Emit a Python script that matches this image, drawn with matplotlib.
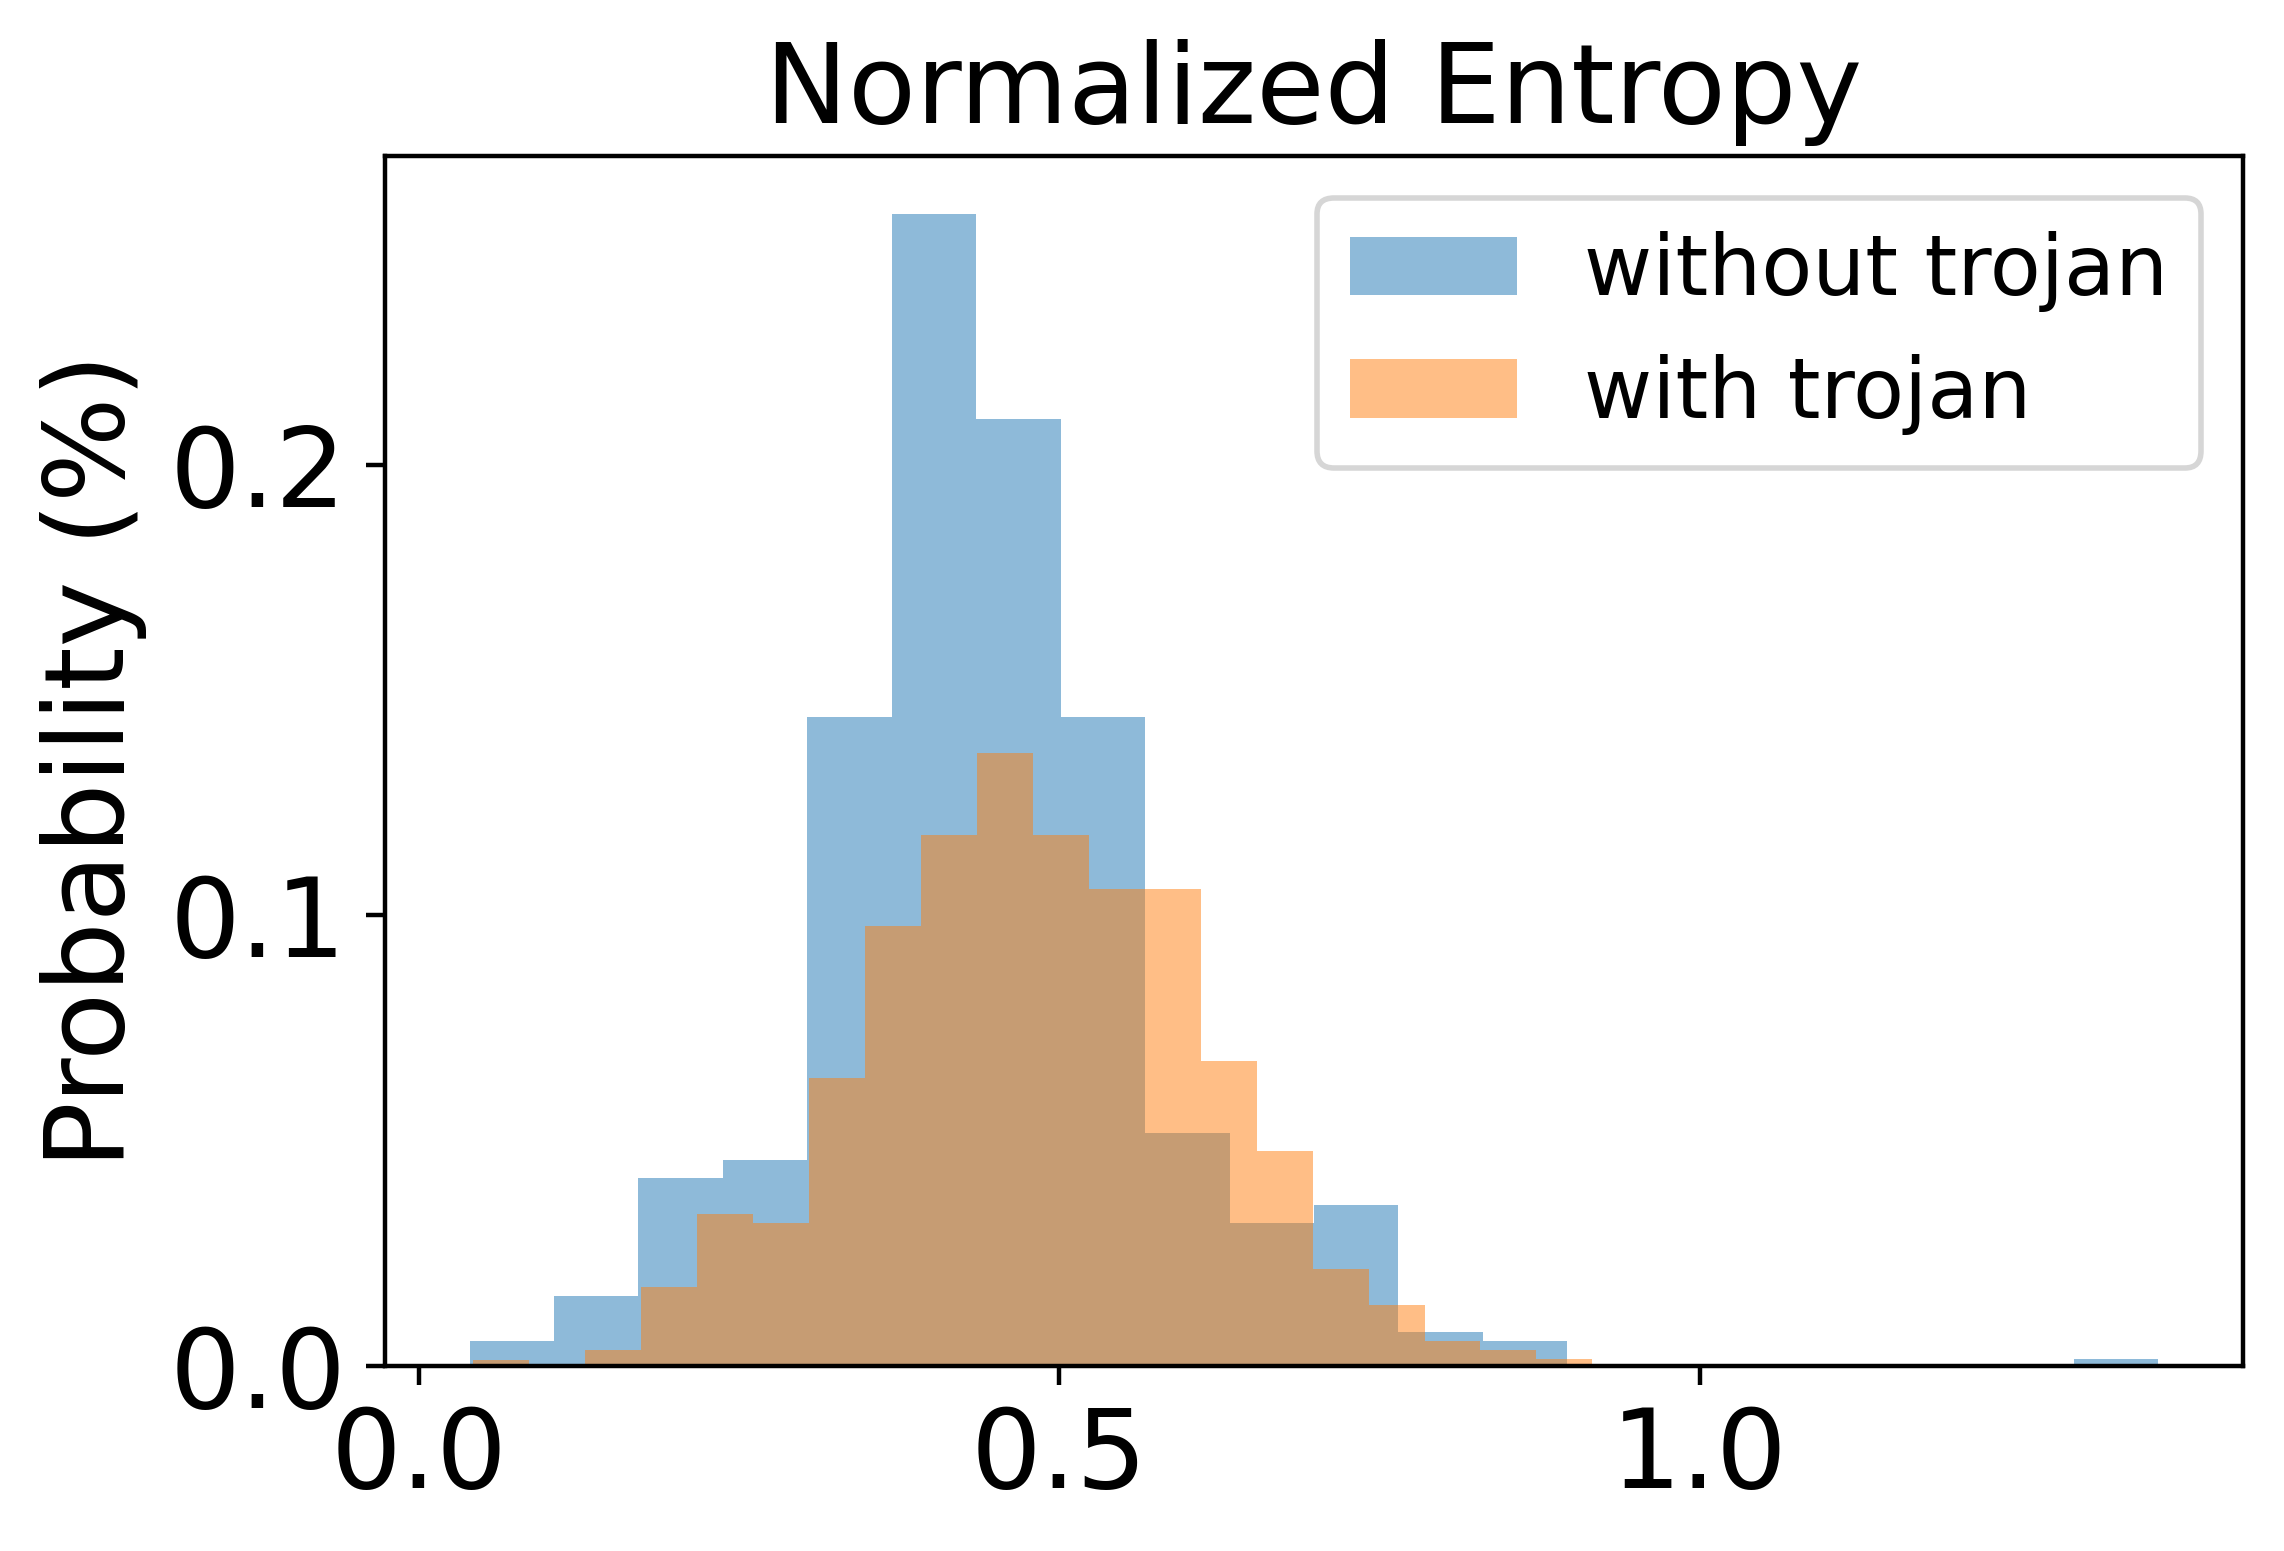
import numpy as np
import matplotlib
matplotlib.use("Agg")
import matplotlib.pyplot as plt

# bar heights (fraction of samples per bin)
without_heights = [0.0054, 0.0155, 0.0416, 0.0457, 0.1440, 0.2558, 0.2101, 0.1440, 0.0517, 0.0316,
                   0.0356, 0.0074, 0.0054, 0.0, 0.0, 0.0, 0.0, 0.0, 0.0, 0.0014]
with_heights = [0.0013, 0.0, 0.0034, 0.0175, 0.0336, 0.0316, 0.0638, 0.0977, 0.1179, 0.1360,
                0.1179, 0.1058, 0.1058, 0.0676, 0.0477, 0.0215, 0.0135, 0.0054, 0.0034, 0.0014]

# data range of each series (hist uses 20 equal bins between min and max)
without_range = (0.0394, 1.3584)
with_range = (0.0418, 0.9164)
n_bins = 20

labels = ["without trojan", "with trojan"]
xticks = [0.0, 0.5, 1.0]
yticks = [0.0, 0.1, 0.2]

plt.rcParams['font.family'] = ['DejaVu Sans']

fig, ax = plt.subplots(figsize=(2284 / 400, 1551 / 400), dpi=400)
fig.subplots_adjust(left=0.1686, right=0.982, bottom=0.1196, top=0.8994)

for rng, h, lab in [(without_range, without_heights, labels[0]),
                    (with_range, with_heights, labels[1])]:
    edges = np.linspace(rng[0], rng[1], n_bins + 1)
    centers = (edges[:-1] + edges[1:]) / 2
    ax.hist(centers, bins=edges, weights=h, alpha=0.5, label=lab)

ax.set_title("Normalized Entropy", fontsize=20)
ax.set_ylabel("Probability (%)", fontsize=20)
ax.set_xticks(xticks)
ax.set_yticks(yticks)
ax.set_xticklabels(["%.1f" % t for t in xticks])
ax.set_yticklabels(["%.1f" % t for t in yticks])
ax.tick_params(labelsize=20)
ax.legend(fontsize=15, loc="upper right")

fig.savefig("out.png", dpi=400)
